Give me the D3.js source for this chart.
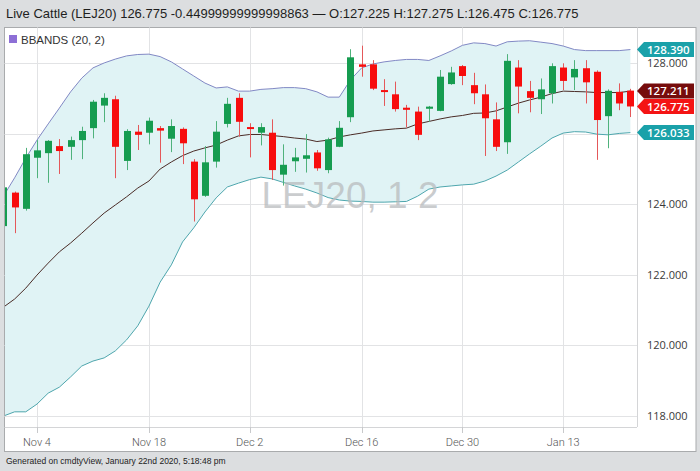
<!DOCTYPE html>
<html><head><meta charset="utf-8">
<script src="https://cdn.jsdelivr.net/npm/d3@7"></script>
<style>html,body{margin:0;padding:0;background:#dcdee0;} svg{display:block}</style>
</head><body><svg id="c" width="700" height="471"></svg>
<script>
const dates = ["2019-10-30","2019-10-31","2019-11-01","2019-11-04","2019-11-05","2019-11-06","2019-11-07","2019-11-08",
"2019-11-11","2019-11-12","2019-11-13","2019-11-14","2019-11-15","2019-11-18","2019-11-19","2019-11-20","2019-11-21","2019-11-22",
"2019-11-25","2019-11-26","2019-11-27","2019-11-29","2019-12-02","2019-12-03","2019-12-04","2019-12-05","2019-12-06",
"2019-12-09","2019-12-10","2019-12-11","2019-12-12","2019-12-13","2019-12-16","2019-12-17","2019-12-18","2019-12-19","2019-12-20",
"2019-12-23","2019-12-24","2019-12-26","2019-12-27","2019-12-30","2019-12-31","2020-01-02","2020-01-03",
"2020-01-06","2020-01-07","2020-01-08","2020-01-09","2020-01-10","2020-01-13","2020-01-14","2020-01-15","2020-01-16","2020-01-17",
"2020-01-21","2020-01-22"];
const opens  = [123.38,124.33,123.87,125.32,125.45,125.65,125.63,125.82,126.16,126.80,126.98,125.23,126.06,126.03,126.16,125.86,126.14,125.21,124.24,125.21,126.28,127.02,126.19,126.03,126.03,124.84,125.22,125.29,125.47,124.97,125.63,126.47,127.97,127.97,127.24,127.12,126.74,126.63,126.71,126.65,127.41,127.92,127.38,127.12,126.41,125.76,127.88,127.21,126.98,127.15,127.88,127.60,127.86,127.76,126.50,127.19,127.225];
const highs  = [124.52,124.36,125.60,125.82,125.82,125.85,125.92,126.20,126.96,127.15,127.08,126.13,126.25,126.46,126.22,126.41,126.18,125.28,125.65,126.36,127.02,127.15,126.30,126.30,126.41,125.70,125.60,125.99,125.54,125.89,126.36,128.40,128.50,128.09,127.55,127.48,126.82,126.77,126.79,127.81,127.90,127.95,127.73,127.40,126.89,128.26,128.09,127.50,127.57,128.00,128.00,128.09,128.09,127.80,127.26,127.43,127.275];
const lows   = [123.35,123.18,123.82,124.74,124.61,124.86,125.26,125.28,125.87,126.33,124.74,124.97,125.54,125.70,125.18,125.48,125.14,123.51,124.21,125.04,126.18,125.92,125.33,125.67,124.69,124.53,124.92,124.90,124.95,124.88,125.62,126.33,127.62,127.24,126.79,126.63,126.18,125.82,126.34,126.64,127.39,127.38,126.84,125.37,125.51,125.43,126.58,126.61,126.56,126.86,127.24,127.24,126.86,125.26,125.59,126.67,126.475];
const closes = [124.48,123.91,125.42,125.53,125.80,125.51,125.82,126.08,126.91,127.02,125.63,126.08,125.97,126.37,126.09,126.22,125.73,124.14,125.19,126.06,126.85,126.34,126.14,126.19,124.97,125.12,125.33,125.39,125.02,125.84,126.17,128.17,127.90,127.28,127.19,126.70,126.68,125.97,126.77,127.62,127.74,127.64,127.15,126.44,125.63,128.07,127.34,127.02,127.26,127.92,127.50,127.84,127.46,126.39,127.22,126.86,126.775];
const bbUpper = [124.23,124.75,125.31,125.82,126.28,126.73,127.19,127.58,127.87,128.01,128.12,128.21,128.25,128.26,128.19,128.04,127.84,127.64,127.44,127.30,127.33,127.21,127.21,127.26,127.28,127.31,127.31,127.28,127.19,127.04,127.04,127.53,127.87,127.98,128.04,128.08,128.11,128.11,128.08,128.21,128.35,128.51,128.58,128.56,128.49,128.61,128.63,128.64,128.60,128.56,128.49,128.39,128.36,128.36,128.36,128.36,128.39];
const bbMiddle = [121.08,121.31,121.62,121.99,122.33,122.65,122.90,123.18,123.47,123.75,123.98,124.21,124.46,124.66,125.00,125.20,125.38,125.51,125.60,125.68,125.82,125.94,125.98,125.98,125.95,125.92,125.88,125.85,125.78,125.82,125.91,125.97,126.02,126.08,126.11,126.14,126.16,126.28,126.35,126.42,126.48,126.52,126.58,126.59,126.65,126.76,126.87,126.96,127.04,127.14,127.21,127.20,127.19,127.17,127.17,127.17,127.211];
const bbLower = [117.99,118.11,118.11,118.33,118.64,118.81,119.10,119.41,119.55,119.64,119.84,120.15,120.55,121.11,121.79,122.28,122.93,123.33,123.78,124.18,124.49,124.60,124.70,124.77,124.72,124.62,124.52,124.43,124.32,124.19,124.12,124.09,124.08,124.06,124.06,124.07,124.08,124.23,124.43,124.49,124.52,124.55,124.57,124.66,124.80,124.97,125.20,125.43,125.65,125.88,126.02,126.06,126.05,125.99,125.97,126.01,126.033];
const yTicks = [118,120,122,124,126,128];
const xTickDates = ["2019-11-04","2019-11-18","2019-12-02","2019-12-16","2019-12-30","2020-01-13"];
const xTickLabels = ["Nov 4","Nov 18","Dec 2","Dec 16","Dec 30","Jan 13"];
const titleText = "Live Cattle (LEJ20) 126.775 -0.44999999999998863 \u2014 O:127.225 H:127.275 L:126.475 C:126.775";
const legendText = "BBANDS (20, 2)";
const watermark = "LEJ20, 1 2";
const footerText = "Generated on cmdtyView, January 22nd 2020, 5:18:48 pm";

const svg = d3.select("#c");
const W = 700, H = 471;
const P = {left: 4.5, right: 637, top: 27.5, bottom: 427};
const x = d3.scalePoint().domain(dates).range([3.4, 630.4]);
const y = d3.scaleLinear().domain([118, 128]).range([415.7, 63.3]);

// background
svg.append("rect").attr("width", W).attr("height", H).attr("fill", "#dcdee0");
svg.append("text").attr("x", 6).attr("y", 18).attr("font-family", "Liberation Sans, Arial, sans-serif")
  .attr("font-size", 13).attr("fill", "#1e1e1e").text(titleText);
svg.append("rect").attr("x", 4.5).attr("y", 27.5).attr("width", 691.5).attr("height", 424)
  .attr("fill", "#fff").attr("stroke", "#a9abad");

const defs = svg.append("defs");
defs.append("clipPath").attr("id", "plotclip").append("rect")
  .attr("x", P.left + 0.5).attr("y", P.top).attr("width", P.right - P.left - 0.5).attr("height", P.bottom - P.top);

// grid
const grid = svg.append("g");
grid.selectAll("line.h").data(yTicks).join("line")
  .attr("x1", P.left).attr("x2", P.right)
  .attr("y1", d => Math.round(y(d)) + 0.5).attr("y2", d => Math.round(y(d)) + 0.5)
  .attr("stroke", "#e2e3e5").attr("stroke-width", 1);
grid.selectAll("line.v").data(xTickDates).join("line")
  .attr("x1", d => Math.round(x(d)) + 0.5).attr("x2", d => Math.round(x(d)) + 0.5)
  .attr("y1", P.top).attr("y2", P.bottom)
  .attr("stroke", "#e2e3e5").attr("stroke-width", 1);
svg.append("line").attr("x1", P.right + 0.5).attr("x2", P.right + 0.5).attr("y1", P.top).attr("y2", P.bottom)
  .attr("stroke", "#d4d5d7");
svg.append("line").attr("x1", P.left).attr("x2", P.right).attr("y1", P.bottom + 0.5).attr("y2", P.bottom + 0.5)
  .attr("stroke", "#d4d5d7");

const plot = svg.append("g").attr("clip-path", "url(#plotclip)");
const idx = d3.range(dates.length);

// band fill
plot.append("path").datum(idx)
  .attr("d", d3.area().x(i => x(dates[i])).y0(i => y(bbLower[i])).y1(i => y(bbUpper[i])))
  .attr("fill", "#e0f3f5");

// watermark
svg.append("text").attr("x", 350).attr("y", 208).attr("text-anchor", "middle")
  .attr("font-family", "Liberation Sans, Arial, sans-serif").attr("font-size", 37)
  .attr("fill", "#b9bcbe").attr("fill-opacity", 0.75).text(watermark);

const line = arr => d3.line().x(i => x(dates[i])).y(i => y(arr[i]));
plot.append("path").datum(idx).attr("d", line(bbUpper)).attr("fill", "none").attr("stroke", "#8188c4").attr("stroke-width", 1);
plot.append("path").datum(idx).attr("d", line(bbLower)).attr("fill", "none").attr("stroke", "#4ea6ad").attr("stroke-width", 1);
plot.append("path").datum(idx).attr("d", line(bbMiddle)).attr("fill", "none").attr("stroke", "#4a2b26").attr("stroke-width", 1);

// candles
const up = i => closes[i] >= opens[i];
const cg = plot.append("g");
cg.selectAll("line").data(idx).join("line")
  .attr("x1", i => Math.round(x(dates[i])) + 0.5).attr("x2", i => Math.round(x(dates[i])) + 0.5)
  .attr("y1", i => y(highs[i])).attr("y2", i => y(lows[i]))
  .attr("stroke", i => up(i) ? "#4fb27c" : "#e4585a").attr("stroke-width", 1);
cg.selectAll("rect").data(idx).join("rect")
  .attr("x", i => Math.round(x(dates[i])) - 3)
  .attr("width", 7)
  .attr("y", i => y(Math.max(opens[i], closes[i])))
  .attr("height", i => Math.max(2, Math.abs(y(opens[i]) - y(closes[i]))))
  .attr("fill", i => up(i) ? "#169c50" : "#f70d0d");

// legend
svg.append("rect").attr("x", 9).attr("y", 35).attr("width", 8).attr("height", 8).attr("fill", "#8d6fd6");
svg.append("text").attr("x", 21).attr("y", 43.5).attr("font-family", "Liberation Sans, Arial, sans-serif")
  .attr("font-size", 11.5).attr("fill", "#333").text(legendText);

// value tags (defined before axis labels so hidden labels can be skipped)
const n = dates.length - 1;
const tags = [
  {v: bbUpper[n], c: "#1aa1a9"},
  {v: bbMiddle[n], c: "#760c0c"},
  {v: closes[n], c: "#f41414"},
  {v: bbLower[n], c: "#1aa1a9"}
];
const covered = d => tags.some(t => Math.abs(y(t.v) - y(d)) < 9);

// y axis labels (a label fully covered by a value tag is not drawn, as in the reference)
svg.selectAll("text.yl").data(yTicks.filter(d => !covered(d))).join("text")
  .attr("x", 647).attr("y", d => y(d) + 4)
  .attr("font-family", "Open Sans, sans-serif").attr("font-size", 11).attr("fill", "#3a3a3a")
  .text(d => d3.format(".3f")(d));

// x axis
svg.selectAll("line.xt").data(xTickDates).join("line")
  .attr("x1", d => Math.round(x(d)) + 0.5).attr("x2", d => Math.round(x(d)) + 0.5)
  .attr("y1", P.bottom).attr("y2", P.bottom + 6).attr("stroke", "#c8c9cb");
svg.selectAll("text.xl").data(xTickDates).join("text")
  .attr("x", d => x(d)).attr("y", 446).attr("text-anchor", "middle")
  .attr("font-family", "Roboto, sans-serif").attr("font-size", 11).attr("font-weight", 300).attr("fill", "#555")
  .text((d, i) => xTickLabels[i]);

const tg = svg.append("g");
tags.forEach(t => {
  const cy = y(t.v);
  tg.append("path").attr("d", `M637,${cy} L644,${cy - 7.5} L694,${cy - 7.5} L694,${cy + 7.5} L644,${cy + 7.5} Z`).attr("fill", t.c);
  tg.append("text").attr("x", 647).attr("y", cy + 4.2).attr("font-family", "Open Sans, sans-serif")
    .attr("font-size", 11.5).attr("font-weight", 600).attr("fill", "#fff").text(d3.format(".3f")(t.v));
});

// footer
svg.append("text").attr("x", 6).attr("y", 464).attr("font-family", "Liberation Sans, Arial, sans-serif")
  .attr("font-size", 8.5).attr("fill", "#222").text(footerText);
</script></body></html>
